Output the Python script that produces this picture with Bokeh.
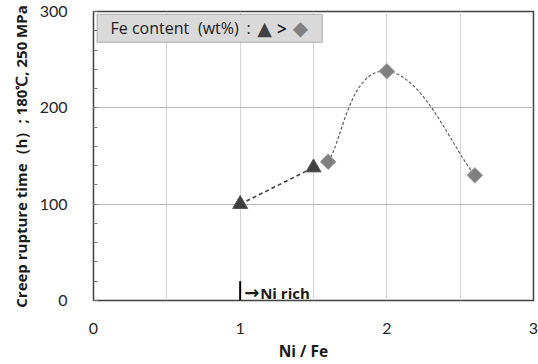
import math
from bokeh.plotting import figure
from bokeh.models import (Range1d, FixedTicker, BoxAnnotation, Label, ColumnDataSource)
from bokeh.embed import file_html
from bokeh.resources import INLINE

# ---- data ----
tri_x = [1.0, 1.5]
tri_y = [100, 138]
dia_x = [1.6, 2.0, 2.6]
dia_y = [144, 238, 130]
x_ticks = [0, 1, 2, 3]
y_ticks = [0, 100, 200, 300]
x_grid = [0.5, 1.0, 1.5, 2.0, 2.5]
y_grid = [100, 200]
marker_x = [1.0]
marker_y0 = [0]
marker_y1 = [20]
y_title = "Creep rupture time（h）; 180℃, 250 MPa"
x_title = "Ni / Fe"

FONT = "Lato"
BFONT = "Open Sans"
NB = "\u00a0"

p = figure(width=538, height=364, output_backend="svg", toolbar_location=None,
           x_range=Range1d(0, 3), y_range=Range1d(0, 300),
           min_border_left=93, min_border_right=5, min_border_top=11, min_border_bottom=63)

p.background_fill_color = "white"
p.outline_line_color = "#404040"
p.outline_line_width = 1.5

# axes
p.xaxis.ticker = FixedTicker(ticks=x_ticks)
p.yaxis.ticker = FixedTicker(ticks=y_ticks, minor_ticks=list(range(0, 301, 20)))
for ax in (p.xaxis[0], p.yaxis[0]):
    ax.axis_line_color = None
    ax.major_tick_line_color = None
    ax.major_label_text_font = FONT
    ax.major_label_text_font_size = "16px"
    ax.major_label_text_color = "#262626"
    ax.axis_label_text_font = BFONT
    ax.axis_label_text_font_size = "15.5px"
    ax.axis_label_text_font_style = "bold"
    ax.axis_label_text_color = "#1a1a1a"
p.yaxis.axis_label_text_font_size = "15px"
p.xaxis.minor_tick_line_color = None
p.yaxis.minor_tick_line_color = "#808080"
p.yaxis.minor_tick_in = 4
p.yaxis.minor_tick_out = 0
p.xaxis.major_label_standoff = 16
p.yaxis.major_label_standoff = 20
p.xaxis.axis_label = x_title + NB * 5
p.yaxis.axis_label = y_title
p.xaxis.axis_label_standoff = 3
p.yaxis.axis_label_standoff = 6

# grids
p.xgrid.ticker = FixedTicker(ticks=x_grid)
p.ygrid.ticker = FixedTicker(ticks=y_grid)
p.xgrid.grid_line_color = "#d4d4d4"
p.ygrid.grid_line_color = "#b8b8b8"
p.xgrid.grid_line_width = 1
p.ygrid.grid_line_width = 1

# triangle series: straight dashed line
p.line(tri_x, tri_y, line_color="#404040", line_width=1.6, line_dash="4 3")

# diamond series: smooth dashed curve (Excel-like cubic bezier)
n = len(dia_x)
x0s, y0s, x1s, y1s, cx0s, cy0s, cx1s, cy1s = [], [], [], [], [], [], [], []
for i in range(n - 1):
    pm = (dia_x[i - 1], dia_y[i - 1]) if i > 0 else (dia_x[i], dia_y[i])
    pa = (dia_x[i], dia_y[i])
    pb = (dia_x[i + 1], dia_y[i + 1])
    pn = (dia_x[i + 2], dia_y[i + 2]) if i + 2 < n else pb
    x0s.append(pa[0]); y0s.append(pa[1])
    x1s.append(pb[0]); y1s.append(pb[1])
    cx0s.append(pa[0] + (pb[0] - pm[0]) / 4.0)
    cy0s.append(pa[1] + (pb[1] - pm[1]) / 4.0)
    cx1s.append(pb[0] - (pn[0] - pa[0]) / 4.0)
    cy1s.append(pb[1] - (pn[1] - pa[1]) / 4.0)
src = ColumnDataSource(dict(x0=x0s, y0=y0s, x1=x1s, y1=y1s, cx0=cx0s, cy0=cy0s, cx1=cx1s, cy1=cy1s))
p.bezier(x0="x0", y0="y0", x1="x1", y1="y1", cx0="cx0", cy0="cy0", cx1="cx1", cy1="cy1",
         source=src, line_color="#606060", line_width=1.2, line_dash="3 2")

p.scatter(tri_x, tri_y, marker="triangle", size=15, fill_color="#404040",
          line_color="#5a5a5a", line_width=1)
p.scatter(dia_x, dia_y, marker="square", size=11, angle=math.pi / 4, fill_color="#808080",
          line_color="#a0a0a0", line_width=1)

# Ni rich marker
p.segment(x0=marker_x, y0=marker_y0, x1=marker_x, y1=marker_y1, line_color="black", line_width=2)
p.add_layout(Label(x=marker_x[0], y=8.3, text="→", x_offset=4, text_font="DejaVu Sans",
                   text_font_size="18px", text_font_style="bold", text_color="#1a1a1a",
                   text_baseline="middle"))
p.add_layout(Label(x=marker_x[0], y=8.3, text="Ni rich", x_offset=20, text_font=BFONT,
                   text_font_size="15px", text_font_style="bold", text_color="#1a1a1a",
                   text_baseline="middle"))

# legend-like box
p.add_layout(BoxAnnotation(left=0.024, right=1.56, bottom=268, top=297,
                           fill_color="#d9d9d9", fill_alpha=1,
                           line_color="#404040", line_width=1.2))
LY = 283
p.add_layout(Label(x=0.116, y=LY, text="Fe content", text_font=BFONT,
                   text_font_size="16px", text_color="#1a1a1a", text_baseline="middle"))
p.add_layout(Label(x=0.712, y=LY, text="(wt%)", text_font=BFONT,
                   text_font_size="16px", text_color="#1a1a1a", text_baseline="middle"))
p.add_layout(Label(x=1.057, y=LY, text=":", text_font=BFONT, text_align="center",
                   text_font_size="16px", text_color="#1a1a1a", text_baseline="middle"))
p.add_layout(Label(x=1.166, y=LY, text="▲", text_font="DejaVu Sans", text_align="center",
                   text_font_size="19px", text_color="#404040", text_baseline="middle"))
p.add_layout(Label(x=1.282, y=LY, text=">", text_font=FONT, text_align="center",
                   text_font_size="22px", text_color="#1a1a1a", text_baseline="middle"))
p.add_layout(Label(x=1.411, y=LY, text="◆", text_font="DejaVu Sans", text_align="center",
                   text_font_size="20px", text_color="#808080", text_baseline="middle"))

open("out.html", "w").write(file_html(p, INLINE))
